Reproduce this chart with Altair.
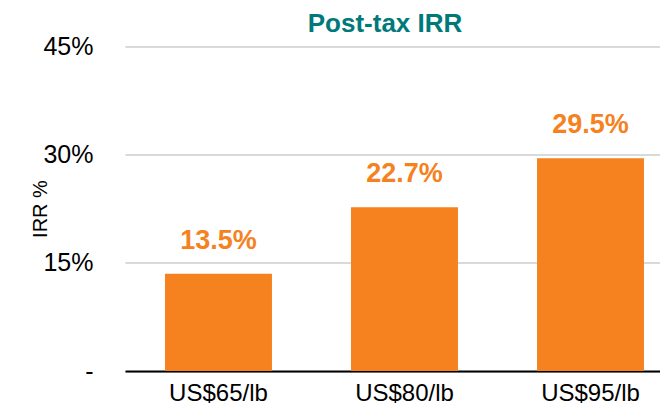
import altair as alt
import pandas as pd

categories = ["US$65/lb", "US$80/lb", "US$95/lb"]
irr_values = [0.135, 0.227, 0.295]
label_texts = ["13.5%", "22.7%", "29.5%"]
y_ticks = [0, 0.15, 0.30, 0.45]
chart_title = "Post-tax IRR"

df = pd.DataFrame({"price": categories, "irr": irr_values, "label": label_texts})
title_df = pd.DataFrame({"t": [chart_title]})

ORANGE = "#F5821F"
TEAL = "#00797A"
FONT = "Liberation Sans"

x_enc = alt.X(
    "price:N",
    sort=categories,
    title=None,
    scale=alt.Scale(paddingInner=0.425, paddingOuter=0.1506, align=0.714),
    axis=alt.Axis(
        labelAngle=0,
        labelFont=FONT,
        labelFontSize=24,
        labelColor="#000000",
        labelPadding=10,
        ticks=False,
        domainColor="#000000",
        domainWidth=2,
        grid=False,
    ),
)

y_enc = alt.Y(
    "irr:Q",
    scale=alt.Scale(domain=[0, 0.45], nice=False),
    axis=alt.Axis(
        values=y_ticks,
        labelExpr="datum.value == 0 ? '-' : format(datum.value, '.0%')",
        labelFont=FONT,
        labelFontSize=25,
        labelColor="#000000",
        labelPadding=32,
        ticks=False,
        domain=False,
        grid=True,
        gridColor="#D9D9D9",
        gridWidth=2,
        title="IRR %",
        titleFont=FONT,
        titleFontSize=20,
        titleFontWeight="normal",
        titleColor="#000000",
        titleAngle=-90,
        titleX=-85,
        titleY=162,
        titleAlign="center",
        titleBaseline="middle",
    ),
)

bars = alt.Chart(df).mark_bar(color=ORANGE).encode(x=x_enc, y=y_enc)

labels = alt.Chart(df).mark_text(
    font=FONT,
    fontSize=27,
    fontWeight="bold",
    color=ORANGE,
    baseline="alphabetic",
    align="center",
    dy=-25,
).encode(
    x=alt.X("price:N", sort=categories),
    y=alt.Y("irr:Q"),
    text="label:N",
)

title_mark = alt.Chart(title_df).mark_text(
    font=FONT,
    fontSize=26,
    fontWeight="bold",
    color=TEAL,
    baseline="alphabetic",
    align="center",
).encode(
    x=alt.value(260),
    y=alt.value(-14.5),
    text="t:N",
)

chart = (
    alt.layer(bars, labels, title_mark)
    .properties(
        width=535,
        height=324.5,
        autosize=alt.AutoSizeParams(type="none"),
        padding={"left": 117, "top": 38.5, "right": 0, "bottom": 34},
    )
    .configure_view(stroke=None)
)

chart.save("out.html", embed_options={"renderer": "svg", "actions": False})
